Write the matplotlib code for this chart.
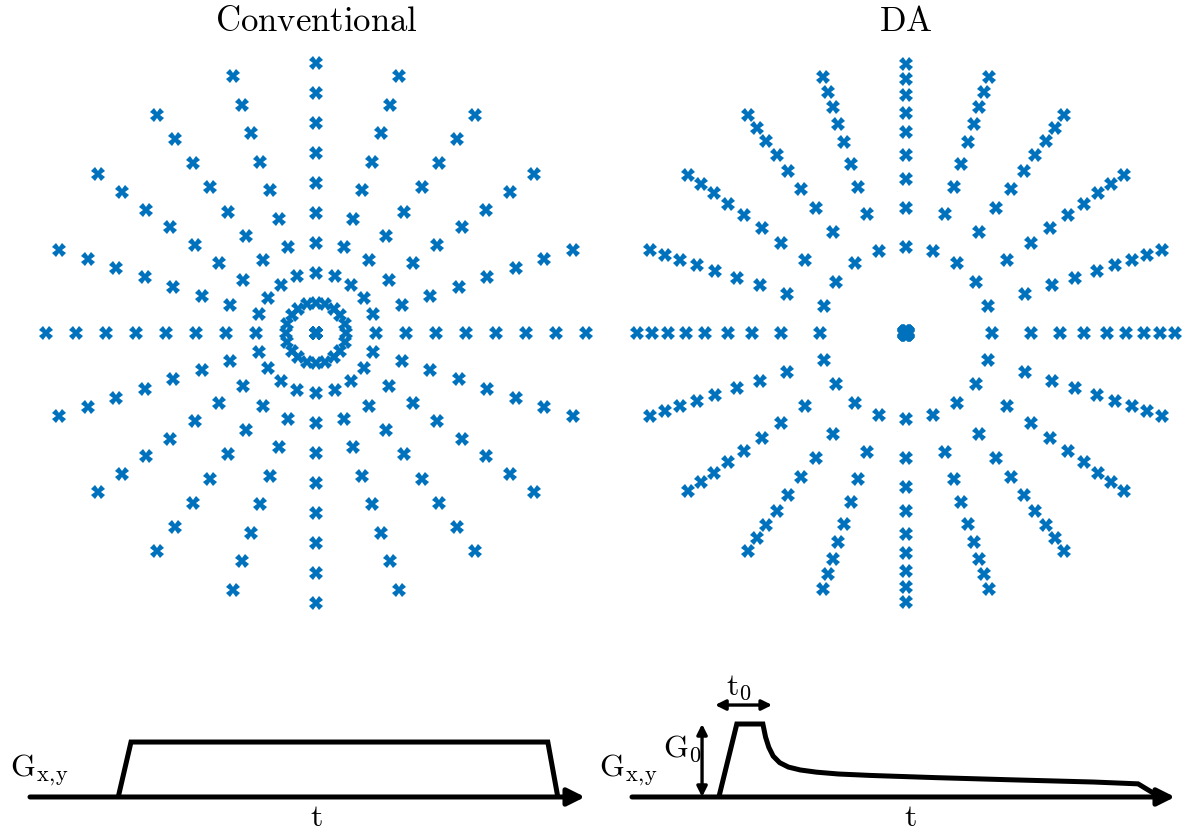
import numpy as np
import matplotlib
matplotlib.use("Agg")
import matplotlib.pyplot as plt

plt.rcParams["mathtext.fontset"] = "cm"

# ---- k-space sampling (radius normalised to k_max = 1) ----
spoke_angles_deg = [0, 18, 36, 54, 72, 90, 108, 126, 144, 162,
                    180, 198, 216, 234, 252, 270, 288, 306, 324, 342]
conv_radii = [0.0, 0.111, 0.222, 0.333, 0.444, 0.556, 0.667, 0.778, 0.889, 1.0]
da_radii = [0.0, 0.008, 0.320, 0.463, 0.570, 0.659, 0.743, 0.815, 0.880, 0.940, 0.997]

# ---- gradient waveforms (time normalised to axis length, amplitude in G0) ----
conv_t = [0.159, 0.182, 0.933, 0.951]
conv_g = [0.0, 0.753, 0.753, 0.0]
da_t = [0.160, 0.193, 0.241, 0.246, 0.252, 0.260, 0.272, 0.288, 0.310,
        0.340, 0.380, 0.440, 0.560, 0.700, 0.850, 0.932, 0.972]
da_g = [0.0, 1.0, 1.0, 0.82, 0.68, 0.56, 0.47, 0.41, 0.37,
        0.34, 0.315, 0.295, 0.265, 0.235, 0.205, 0.18, 0.0]

BLUE = "#0072BD"
W, H = 1195, 838

fig = plt.figure(figsize=(W / 100, H / 100), dpi=100)


def px_axes(x0, ytop, w, h):
    ax = fig.add_axes([x0 / W, (H - ytop - h) / H, w / W, h / H])
    ax.set_axis_off()
    return ax


def kspace(ax, radii, title):
    ang = np.deg2rad(np.array(spoke_angles_deg, dtype=float))
    r = np.array(radii, dtype=float)
    kx = (r[None, :] * np.cos(ang)[:, None]).ravel()
    ky = (r[None, :] * np.sin(ang)[:, None]).ravel()
    ax.plot(kx, ky, linestyle="none", marker="X", ms=9.5, mew=0,
            color=BLUE, clip_on=False)
    ax.set_xlim(-1.05, 1.05)
    ax.set_ylim(-1.05, 1.05)
    ax.set_aspect("equal")
    ax.text(0, 1.155, r"$\mathrm{%s}$" % title, ha="center", va="center",
            fontsize=25, transform=ax.transData, clip_on=False)


ax1 = px_axes(316 - 283.5, 333 - 283.5, 567, 567)
kspace(ax1, conv_radii, "Conventional")
ax2 = px_axes(906 - 283.5, 333 - 283.5, 567, 567)
kspace(ax2, da_radii, "DA")

LW = 3.6
LABEL_FS = 23
GXY = r"$\mathrm{G}_{\mathrm{x},\!\mathrm{y}}$"


def waveform(ax, t, g):
    ax.set_xlim(0, 1)
    ax.set_ylim(-0.562, 1.603)
    # time axis with arrow head
    ax.annotate("", xy=(1.0, 0), xytext=(0.0, 0),
                arrowprops=dict(arrowstyle="-|>", lw=LW, color="k",
                                mutation_scale=26, shrinkA=0, shrinkB=0),
                annotation_clip=False)
    ax.plot(t, g, color="k", lw=LW, solid_joinstyle="miter",
            solid_capstyle="butt", clip_on=False)


axb1 = px_axes(30, 680, 555, 158)
waveform(axb1, conv_t, conv_g)
axb1.text(0.016, 0.36, GXY, ha="center", va="center",
          fontsize=LABEL_FS, clip_on=False)
axb1.text(0.515, -0.50, r"$\mathrm{t}$", ha="center", va="bottom",
          fontsize=LABEL_FS, clip_on=False)

axb2 = px_axes(632, 680, 543, 158)
waveform(axb2, da_t, da_g)
axb2.text(-0.007, 0.36, GXY, ha="center", va="center",
          fontsize=LABEL_FS, clip_on=False)
axb2.text(0.512, -0.50, r"$\mathrm{t}$", ha="center", va="bottom",
          fontsize=LABEL_FS, clip_on=False)
# t0 duration marker
axb2.annotate("", xy=(0.258, 1.26), xytext=(0.153, 1.26),
              arrowprops=dict(arrowstyle="<|-|>", lw=2.4, color="k",
                              mutation_scale=15, shrinkA=0, shrinkB=0),
              annotation_clip=False)
axb2.text(0.197, 1.51, r"$\mathrm{t}_0$", ha="center", va="center",
          fontsize=LABEL_FS, clip_on=False)
# G0 amplitude marker
axb2.annotate("", xy=(0.129, 1.0), xytext=(0.129, 0.0),
              arrowprops=dict(arrowstyle="<|-|>", lw=2.4, color="k",
                              mutation_scale=15, shrinkA=0, shrinkB=0),
              annotation_clip=False)
axb2.text(0.092, 0.66, r"$\mathrm{G}_0$", ha="center", va="center",
          fontsize=LABEL_FS, clip_on=False)

fig.savefig("out.png", dpi=100, facecolor="white")
